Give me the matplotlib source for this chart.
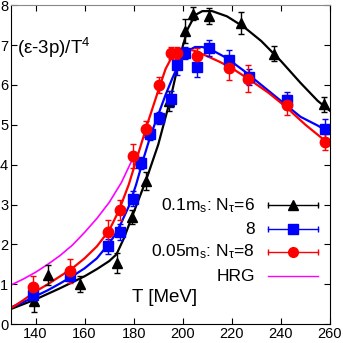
import matplotlib
matplotlib.use('Agg')
import matplotlib.pyplot as plt

plt.rcParams['font.family'] = ['Liberation Sans', 'DejaVu Sans']
plt.rcParams['mathtext.fontset'] = 'custom'
plt.rcParams['mathtext.rm'] = 'Liberation Sans'
plt.rcParams['mathtext.it'] = 'Liberation Sans'

# data points: 0.1 m_s, N_tau = 6 (black triangles)
T_n6 = [139.3, 145.2, 158.3, 173.2, 179.3, 185.1, 194.3, 201.0, 204.1, 210.5, 223.8, 237.3, 257.4]
v_n6 = [0.58, 1.23, 1.00, 1.54, 2.69, 3.59, 5.60, 7.35, 7.79, 7.72, 7.55, 6.78, 5.51]
e_n6 = [0.28, 0.25, 0.20, 0.25, 0.18, 0.23, 0.25, 0.30, 0.17, 0.20, 0.27, 0.19, 0.19]

# 0.1 m_s, N_tau = 8 (blue squares)
T_n8 = [139.1, 154.0, 169.6, 174.3, 179.7, 183.1, 186.5, 190.3, 195.3, 197.6, 201.1, 205.9, 210.7, 219.0, 226.9, 242.3, 258.0]
v_n8 = [0.73, 1.20, 1.95, 2.31, 3.15, 4.05, 4.78, 5.18, 5.64, 6.49, 6.81, 6.45, 6.93, 6.63, 6.20, 5.61, 4.89]
e_n8 = [0.15, 0.12, 0.18, 0.20, 0.18, 0.15, 0.15, 0.15, 0.20, 0.25, 0.15, 0.25, 0.20, 0.25, 0.20, 0.22, 0.25]

# 0.05 m_s, N_tau = 8 (red circles)
T_l8 = [139.1, 154.0, 169.6, 174.5, 179.8, 185.2, 190.3, 195.3, 197.8, 205.9, 218.7, 226.5, 242.3, 258.0]
v_l8 = [0.92, 1.34, 2.31, 2.87, 4.22, 4.90, 5.99, 6.81, 6.81, 6.72, 6.43, 6.16, 5.49, 4.57]
e_l8 = [0.28, 0.30, 0.30, 0.25, 0.30, 0.20, 0.20, 0.15, 0.15, 0.20, 0.30, 0.35, 0.25, 0.20]

# fit curves
Tc_n6 = [130, 135, 140, 145, 150, 155, 160, 165, 170, 173, 176, 180, 185, 190, 195, 199, 202, 205, 208, 212, 218, 225, 232, 240, 248, 255, 260]
vc_n6 = [0.38, 0.50, 0.62, 0.76, 0.90, 1.05, 1.20, 1.38, 1.58, 1.75, 2.15, 2.80, 3.60, 4.50, 5.65, 6.75, 7.40, 7.75, 7.85, 7.85, 7.72, 7.45, 7.10, 6.60, 6.05, 5.60, 5.35]

Tc_n8 = [130, 135, 140, 145, 150, 155, 160, 165, 169, 172, 175, 178, 181, 184, 187, 190, 193, 196, 199, 202, 205, 208, 212, 218, 225, 232, 240, 248, 255, 260]
vc_n8 = [0.42, 0.55, 0.70, 0.85, 1.02, 1.20, 1.40, 1.65, 1.95, 2.20, 2.55, 2.95, 3.50, 4.15, 4.75, 5.25, 5.75, 6.20, 6.60, 6.85, 6.95, 6.95, 6.87, 6.67, 6.35, 6.00, 5.60, 5.20, 4.98, 4.80]

Tc_l8 = [130, 135, 140, 145, 150, 155, 160, 165, 170, 174, 178, 182, 186, 190, 193, 196, 199, 202, 205, 210, 215, 220, 228, 235, 242, 250, 255, 260]
vc_l8 = [0.40, 0.60, 0.82, 1.00, 1.20, 1.40, 1.65, 1.95, 2.35, 2.85, 3.50, 4.30, 5.10, 5.85, 6.40, 6.75, 6.88, 6.90, 6.85, 6.72, 6.58, 6.42, 6.10, 5.80, 5.45, 5.00, 4.75, 4.50]

# hadron resonance gas
T_hrg = [130, 135, 140, 145, 150, 155, 160, 165, 170, 175, 180]
v_hrg = [0.98, 1.13, 1.30, 1.50, 1.72, 1.98, 2.30, 2.65, 3.05, 3.55, 4.20]

fig = plt.figure(figsize=(3.43, 3.43), dpi=100)
ax = fig.add_axes([0.032, 0.055, 0.93, 0.93])

ax.plot(T_hrg, v_hrg, color='#ff00ff', lw=1.2)
ax.plot(Tc_n6, vc_n6, color='black', lw=1.6)
ax.plot(Tc_n8, vc_n8, color='blue', lw=1.6)
ax.plot(Tc_l8, vc_l8, color='red', lw=1.6)

ax.errorbar(T_n6, v_n6, yerr=e_n6, fmt='^', color='black', ms=7, capsize=2.5, elinewidth=1)
ax.errorbar(T_n8, v_n8, yerr=e_n8, fmt='s', color='blue', ms=7, capsize=2.5, elinewidth=1)
ax.errorbar(T_l8, v_l8, yerr=e_l8, fmt='o', color='red', ms=7.5, capsize=2.5, elinewidth=1)

ax.set_xlim(130, 260)
ax.set_ylim(0, 8)
ax.set_xticks([140, 160, 180, 200, 220, 240, 260])
ax.set_yticks(range(0, 9))
ax.tick_params(direction='in', top=True, right=True, length=4, labelsize=10.5, pad=2)
ax.spines['top'].set_color('#888888')

ax.text(0.02, 0.865, r'(ε-3p)/T$^\mathregular{4}$', transform=ax.transAxes, fontsize=13.5,
        va='center', ha='left')
ax.text(0.38, 0.085, 'T [MeV]', transform=ax.transAxes, fontsize=13.5, va='center', ha='left')

# legend, gnuplot style
labels = [r'0.1m$_\mathregular{s}$: N$_\mathregular{τ}$=6', '8',
          r'0.05m$_\mathregular{s}$: N$_\mathregular{τ}$=8', 'HRG']
colors = ['black', 'blue', 'red', '#ff00ff']
markers = ['^', 's', 'o', None]
rows = [0.373, 0.298, 0.226, 0.150]
for lab, c, m, y in zip(labels, colors, markers, rows):
    ax.text(0.765, y, lab, transform=ax.transAxes, ha='right', va='center', fontsize=12.5)
    ax.plot([0.806, 0.962], [y, y], color=c, lw=1, transform=ax.transAxes, clip_on=False)
    if m is not None:
        ax.plot([0.806, 0.962], [y, y], ls='none', marker='|', ms=5, color=c,
                transform=ax.transAxes, clip_on=False)
        ax.plot([0.884], [y], ls='none', marker=m, ms=7, color=c,
                transform=ax.transAxes, clip_on=False)

fig.savefig('out.png', dpi=100)
